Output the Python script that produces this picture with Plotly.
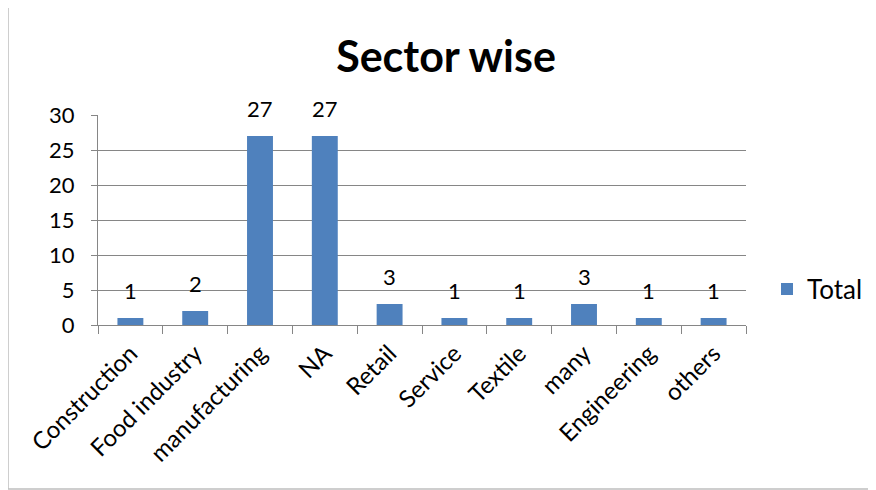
import plotly.graph_objects as go

categories = ["Construction", "Food industry", "manufacturing", "NA", "Retail",
              "Service", "Textile", "many", "Engineering", "others"]
totals = [1, 2, 27, 27, 3, 1, 1, 3, 1, 1]
y_ticks = [0, 5, 10, 15, 20, 25, 30]

FONT = "Lato, Open Sans, sans-serif"
# page body adds an 8px offset; layout below compensates for it
OFF = 8
L, T, R, B = 98 - OFF, 115 - OFF, 746 - OFF, 325 - OFF
PW, PH = R - L, B - T

fig = go.Figure()
fig.add_trace(go.Bar(
    x=categories, y=totals, name="Total",
    marker=dict(color="#4F81BD", line=dict(width=0)),
    cliponaxis=False, width=0.4,
))
for c, v in zip(categories, totals):
    fig.add_annotation(x=c, y=v, text=str(v), showarrow=False,
                       yanchor="bottom", yshift=12,
                       font=dict(size=22, family=FONT, color="black"))

fig.update_layout(
    width=876, height=490,
    paper_bgcolor="white", plot_bgcolor="white",
    margin=dict(l=L, r=876 - R, t=T, b=490 - B, autoexpand=False),
    font=dict(family=FONT, color="black"),
    title=dict(text="<b>Sector wise</b>", x=(446 - OFF) / 876, xanchor="center",
               y=1 - (57 - OFF) / 490, yanchor="middle",
               font=dict(size=43, family=FONT, color="black")),
    showlegend=True,
    legend=dict(x=(767 - OFF - L) / PW, xanchor="left",
                y=(325 - 289) / PH, yanchor="middle",
                font=dict(size=26, family=FONT), bgcolor="rgba(0,0,0,0)",
                itemwidth=30),
    bargap=0.6,
)
fig.update_yaxes(range=[0, 30], tickvals=y_ticks, showgrid=True,
                 gridcolor="#868686", gridwidth=1, showline=True,
                 linecolor="#868686", ticks="outside", ticklen=6,
                 tickcolor="#868686", tickfont=dict(size=22, family=FONT),
                 ticklabelstandoff=12,
                 zeroline=False, fixedrange=True, automargin=False)
fig.update_xaxes(showline=True, linecolor="#868686", ticks="outside",
                 tickson="boundaries", ticklen=8, tickcolor="#868686",
                 tickangle=-45, tickfont=dict(size=24, family=FONT),
                 ticklabelstandoff=4,
                 showgrid=False, automargin=False)
fig.add_shape(type="rect", xref="paper", yref="paper",
              x0=(0 - L) / PW, x1=(875 - OFF - L) / PW,
              y0=-(489 - OFF - B) / PH, y1=(B + 5) / PH,
              line=dict(color="#BFBFBF", width=1.5), layer="below")
fig.write_html("out.html")
